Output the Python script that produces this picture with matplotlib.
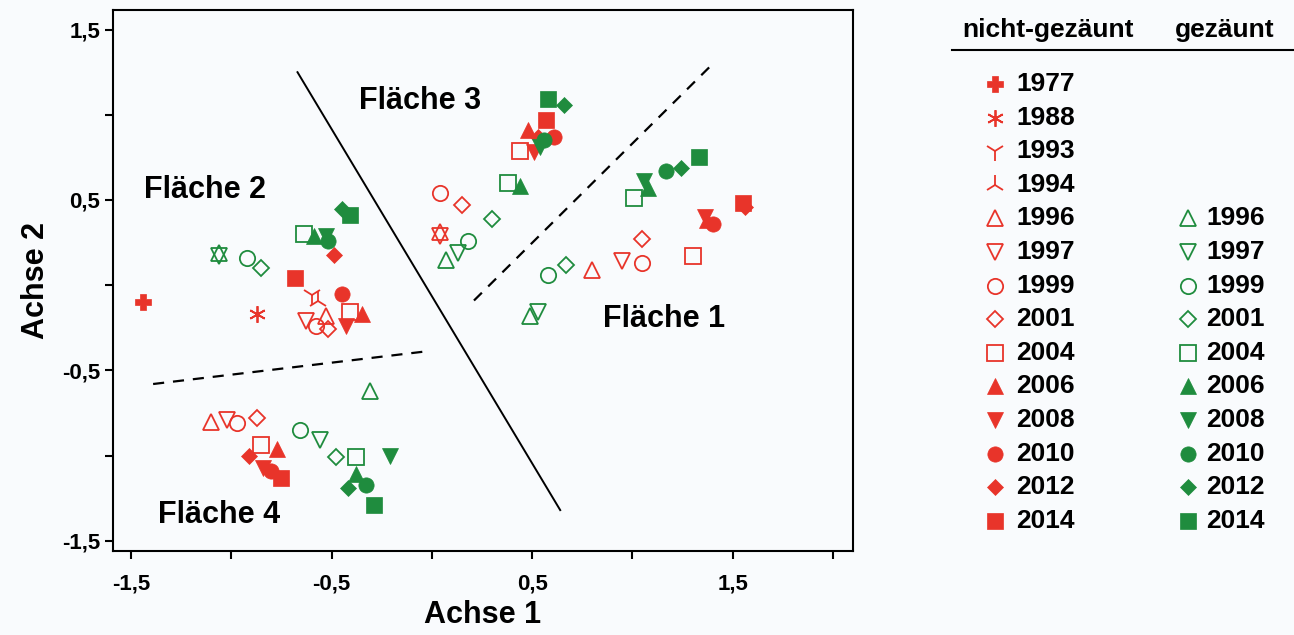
import matplotlib.pyplot as plt

plt.rcParams['font.family'] = ['Liberation Sans', 'DejaVu Sans']
plt.rcParams['font.weight'] = 'bold'

RED = '#e8342a'
GREEN = '#1f8c3e'

# legend years
years_ng = [1977, 1988, 1993, 1994, 1996, 1997, 1999, 2001, 2004, 2006, 2008, 2010, 2012, 2014]
years_g = [1996, 1997, 1999, 2001, 2004, 2006, 2008, 2010, 2012, 2014]
years_short = [1996, 1997, 1999, 2001, 2004, 2006, 2008, 2010, 2012, 2014]

# Fläche 1
f1_ng_x = [0.80, 0.95, 1.05, 1.05, 1.30, 1.37, 1.36, 1.40, 1.56, 1.55]
f1_ng_y = [0.09, 0.14, 0.13, 0.27, 0.17, 0.38, 0.40, 0.36, 0.46, 0.48]
f1_g_x = [0.49, 0.53, 0.58, 0.67, 1.01, 1.08, 1.06, 1.17, 1.24, 1.33]
f1_g_y = [-0.18, -0.16, 0.06, 0.12, 0.51, 0.57, 0.61, 0.67, 0.69, 0.75]

# Fläche 2 (nicht-gezäunt ab 1977)
f2_ng_x = [-1.44, -0.87, -0.60, -0.57, -0.53, -0.63, -0.58, -0.52, -0.41, -0.35, -0.43, -0.45, -0.49, -0.68]
f2_ng_y = [-0.10, -0.17, -0.06, -0.09, -0.18, -0.21, -0.24, -0.26, -0.16, -0.17, -0.24, -0.05, 0.18, 0.04]
f2_g_x = [-1.06, -1.06, -0.92, -0.85, -0.64, -0.59, -0.53, -0.52, -0.45, -0.41]
f2_g_y = [0.19, 0.17, 0.16, 0.10, 0.30, 0.29, 0.29, 0.26, 0.45, 0.41]

# Fläche 3
f3_ng_x = [0.04, 0.04, 0.04, 0.15, 0.44, 0.48, 0.51, 0.61, 0.53, 0.57]
f3_ng_y = [0.31, 0.29, 0.54, 0.47, 0.79, 0.91, 0.78, 0.87, 0.87, 0.97]
f3_g_x = [0.07, 0.13, 0.18, 0.30, 0.38, 0.44, 0.54, 0.56, 0.66, 0.58]
f3_g_y = [0.15, 0.19, 0.26, 0.39, 0.60, 0.58, 0.81, 0.85, 1.06, 1.09]

# Fläche 4
f4_ng_x = [-1.10, -1.02, -0.97, -0.87, -0.85, -0.77, -0.84, -0.80, -0.91, -0.75]
f4_ng_y = [-0.80, -0.79, -0.81, -0.78, -0.94, -0.96, -1.07, -1.09, -1.00, -1.13]
f4_g_x = [-0.31, -0.56, -0.66, -0.48, -0.38, -0.38, -0.21, -0.33, -0.42, -0.29]
f4_g_y = [-0.62, -0.91, -0.85, -1.01, -1.01, -1.11, -1.00, -1.17, -1.19, -1.29]

# Trennlinien
solid_x = [-0.67, 0.64]
solid_y = [1.25, -1.32]
dash1_x = [0.21, 1.41]
dash1_y = [-0.09, 1.31]
dash2_x = [-1.39, -0.04]
dash2_y = [-0.58, -0.39]

area_labels = ['Fläche 1', 'Fläche 2', 'Fläche 3', 'Fläche 4']
area_label_x = [1.16, -1.13, -0.06, -1.06]
area_label_y = [-0.20, 0.56, 1.08, -1.35]

# marker style per year: (marker, filled, size)
style = {
    1977: ('P', True, 11),
    1988: ((6, 2, 0), False, 12),
    1993: ('1', False, 14),
    1994: ('2', False, 14),
    1996: ('^', False, 11),
    1997: ('v', False, 11),
    1999: ('o', False, 11),
    2001: ('D', False, 8),
    2004: ('s', False, 11),
    2006: ('^', True, 11),
    2008: ('v', True, 11),
    2010: ('o', True, 11),
    2012: ('D', True, 8),
    2014: ('s', True, 11),
}


def draw(ax, years, xs, ys, color):
    for yr, x, y in zip(years, xs, ys):
        m, filled, ms = style[yr]
        if filled:
            ax.plot(x, y, marker=m, ms=ms, color=color, mec=color, mew=0.5, ls='none')
        else:
            ax.plot(x, y, marker=m, ms=ms, mfc='none', mec=color, mew=1.3, ls='none')


fig = plt.figure(figsize=(12.94, 6.35), dpi=100)
fig.patch.set_facecolor('#f9fbfd')
ax = fig.add_axes([113 / 1294, 1 - 551 / 635, 740 / 1294, 541 / 635])
ax.set_facecolor('#f9fbfd')

ax.plot(solid_x, solid_y, color='black', lw=1.4)
ax.plot(dash1_x, dash1_y, color='black', lw=1.6, ls=(0, (5, 4)))
ax.plot(dash2_x, dash2_y, color='black', lw=1.6, ls=(0, (5, 4)))

draw(ax, years_short, f1_ng_x, f1_ng_y, RED)
draw(ax, years_short, f1_g_x, f1_g_y, GREEN)
draw(ax, years_ng, f2_ng_x, f2_ng_y, RED)
draw(ax, years_short, f2_g_x, f2_g_y, GREEN)
draw(ax, years_short, f3_ng_x, f3_ng_y, RED)
draw(ax, years_short, f3_g_x, f3_g_y, GREEN)
draw(ax, years_short, f4_ng_x, f4_ng_y, RED)
draw(ax, years_short, f4_g_x, f4_g_y, GREEN)

for lab, x, y in zip(area_labels, area_label_x, area_label_y):
    ax.text(x, y, lab, fontsize=22, fontweight='bold', ha='center', va='center')

ax.set_xlim(-1.59, 2.10)
ax.set_ylim(-1.56, 1.615)
ticks = [-1.5, -1.0, -0.5, 0.0, 0.5, 1.0, 1.5]
labels = ['-1,5', '', '-0,5', '', '0,5', '', '1,5']
ax.set_xticks(ticks + [2.0])
ax.set_xticklabels(labels + [''])
ax.set_yticks(ticks)
ax.set_yticklabels(labels)
ax.tick_params(direction='out', length=6, width=1.5, labelsize=16)
ax.tick_params(axis='x', pad=10)
ax.tick_params(axis='y', pad=3)
for sp in ax.spines.values():
    sp.set_linewidth(1.5)
ax.set_xlabel('Achse 1', fontsize=22, fontweight='bold', labelpad=4)
ax.set_ylabel('Achse 2', fontsize=22, fontweight='bold', labelpad=8)

# legend drawn in pixel coordinates
lg = fig.add_axes([0, 0, 1, 1])
lg.set_xlim(0, 1294)
lg.set_ylim(635, 0)
lg.axis('off')
lg.patch.set_alpha(0)
lg.text(962, 30, 'nicht-gezäunt', fontsize=19, fontweight='bold', ha='left', va='center')
lg.text(1175, 30, 'gezäunt', fontsize=19, fontweight='bold', ha='left', va='center')
lg.plot([952, 1294], [50, 50], color='black', lw=1.5)

row0, dy = 84, 33.6
draw(lg, years_ng, [995] * len(years_ng), [row0 + dy * i for i in range(len(years_ng))], RED)
for i, yr in enumerate(years_ng):
    lg.text(1016, row0 + dy * i, str(yr), fontsize=19, fontweight='bold', ha='left', va='center')
off = years_ng.index(years_g[0])
draw(lg, years_g, [1188] * len(years_g), [row0 + dy * (i + off) for i in range(len(years_g))], GREEN)
for i, yr in enumerate(years_g):
    lg.text(1206, row0 + dy * (i + off), str(yr), fontsize=19, fontweight='bold', ha='left', va='center')

fig.savefig('out.png', dpi=100, facecolor=fig.get_facecolor())
